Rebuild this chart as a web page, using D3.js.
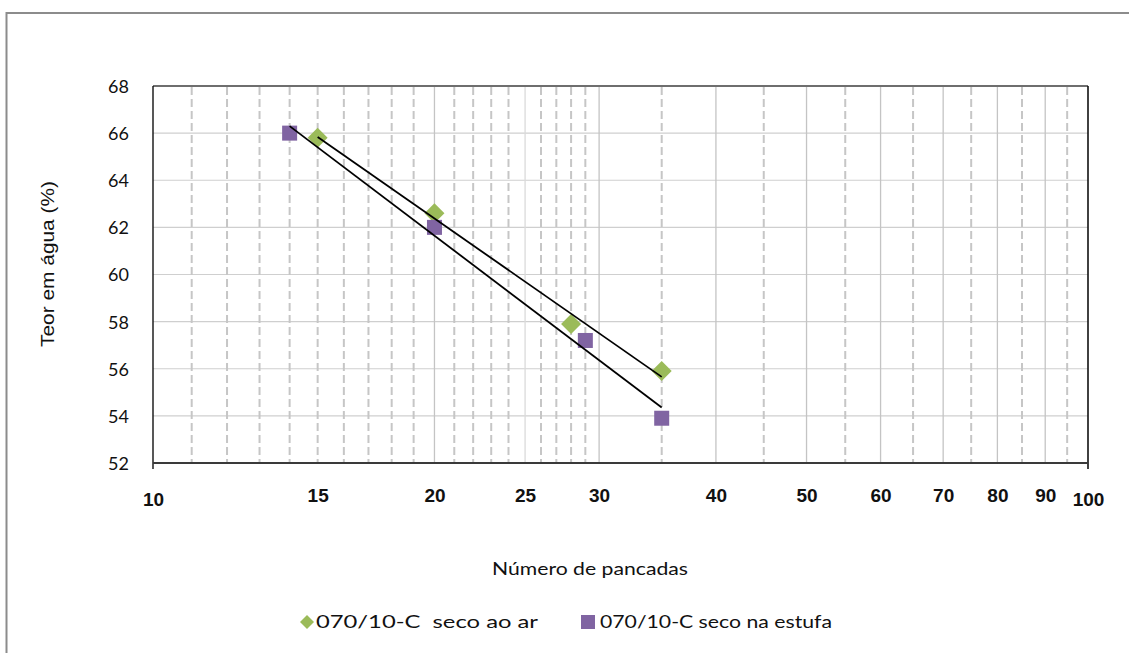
<!DOCTYPE html>
<html><head><meta charset="utf-8">
<script src="https://cdn.jsdelivr.net/npm/d3@7"></script>
<style>body{margin:0;background:#fff}svg{display:block}</style>
</head><body><svg id="c" width="1129" height="653"></svg>
<script>
// ---- data ----
const seriesNames = ["070/10-C  seco ao ar", "070/10-C seco na estufa"];
const arX = [15, 20, 28, 35];
const arY = [65.8, 62.6, 57.9, 55.9];
const estufaX = [14, 20, 29, 35];
const estufaY = [66.0, 62.0, 57.2, 53.9];
const xTickLabels = [10, 15, 20, 25, 30, 40, 50, 60, 70, 80, 90, 100];
const yTicks = [52, 54, 56, 58, 60, 62, 64, 66, 68];
const xSolidGrid = [20, 25, 30, 40, 50, 60, 70, 80, 90];
const xDashedGrid = [11, 12, 13, 14, 15, 16, 17, 18, 19, 21, 22, 23, 24, 26, 27, 28, 29, 35, 45, 55, 65, 75, 85, 95];
const xTitle = "Número de pancadas";
const yTitle = "Teor em água (%)";
const colors = ["#9BBB59", "#8064A2"];

// ---- layout ----
const L = 153, R = 1088, T = 86, B = 463;
const svg = d3.select("#c");
const x = d3.scaleLog().domain([10, 100]).range([L, R]);
const y = d3.scaleLinear().domain([52, 68]).range([B, T]);

// outer frame
svg.append("rect").attr("x", 6.5).attr("y", 13).attr("width", 1140).attr("height", 660)
  .attr("fill", "none").attr("stroke", "#8c8c8c").attr("stroke-width", 2);

// horizontal gridlines
svg.append("g").selectAll("line").data(yTicks.filter(d => d > 52 && d < 68)).join("line")
  .attr("x1", L).attr("x2", R).attr("y1", d => y(d)).attr("y2", d => y(d))
  .attr("stroke", "#cfcfcf").attr("stroke-width", 1.2);

// vertical gridlines
svg.append("g").selectAll("line").data(xSolidGrid).join("line")
  .attr("x1", d => x(d)).attr("x2", d => x(d)).attr("y1", T).attr("y2", B)
  .attr("stroke", d => d === 25 ? "#dadada" : "#c4c4c4").attr("stroke-width", 1.3);
svg.append("g").selectAll("line").data(xDashedGrid).join("line")
  .attr("x1", d => x(d)).attr("x2", d => x(d)).attr("y1", T + 1).attr("y2", B)
  .attr("stroke", "#c6c6c6").attr("stroke-width", 2).attr("stroke-dasharray", "8,4");

// plot borders / axes
svg.append("line").attr("x1", L).attr("x2", R).attr("y1", T).attr("y2", T)
  .attr("stroke", "#6e6e6e").attr("stroke-width", 2);
svg.append("line").attr("x1", R).attr("x2", R).attr("y1", T).attr("y2", B + 6)
  .attr("stroke", "#111").attr("stroke-width", 1.6);
svg.append("line").attr("x1", L).attr("x2", L).attr("y1", T).attr("y2", B + 6)
  .attr("stroke", "#111").attr("stroke-width", 1.4);
svg.append("line").attr("x1", L).attr("x2", R).attr("y1", B).attr("y2", B)
  .attr("stroke", "#3a3a3a").attr("stroke-width", 2);

// y tick labels
const yAxis = svg.append("g").attr("transform", `translate(${L},0)`)
  .call(d3.axisLeft(y).tickValues(yTicks).tickSize(0).tickPadding(24));
yAxis.select(".domain").remove();
yAxis.selectAll("text").attr("font-family", "Lato, 'Open Sans', sans-serif")
  .attr("font-size", 18).attr("fill", "#111").attr("dy", "0.36em");

// x tick labels
const xAxis = svg.append("g").attr("transform", `translate(0,${B})`)
  .call(d3.axisBottom(x).tickValues(xTickLabels).tickSize(0).tickFormat(d3.format("d")));
xAxis.select(".domain").remove();
xAxis.selectAll("text")
  .attr("font-family", "'Liberation Sans', Arial, sans-serif").attr("font-weight", "bold")
  .attr("font-size", 19).attr("fill", "#111")
  .attr("dy", 0)
  .attr("y", (d, i) => (i === 0 || i === xTickLabels.length - 1) ? 43 : 39);

// axis titles
svg.append("text").attr("x", 590).attr("y", 575).attr("text-anchor", "middle")
  .attr("font-family", "Lato, 'Open Sans', sans-serif").attr("font-size", 18).attr("fill", "#111")
  .attr("textLength", 196).attr("lengthAdjust", "spacingAndGlyphs").text(xTitle);
svg.append("text").attr("transform", "translate(54,264) rotate(-90)").attr("text-anchor", "middle")
  .attr("font-family", "'Liberation Sans', Arial, sans-serif").attr("font-size", 18).attr("fill", "#111")
  .attr("textLength", 166).attr("lengthAdjust", "spacingAndGlyphs").text(yTitle);

// log trendlines
function logFit(xs, ys) {
  const lx = xs.map(Math.log);
  const mx = d3.mean(lx), my = d3.mean(ys);
  const b = d3.sum(lx.map((v, i) => (v - mx) * (ys[i] - my))) / d3.sum(lx.map(v => (v - mx) ** 2));
  const a = my - b * mx;
  return v => a + b * Math.log(v);
}
const series = [
  {xs: arX, ys: arY, color: colors[0], shape: "diamond"},
  {xs: estufaX, ys: estufaY, color: colors[1], shape: "square"}
];

// markers
const diamond = s => `M0,${-s}L${s},0L0,${s}L${-s},0Z`;
series.forEach(s => {
  const pts = s.xs.map((v, i) => [v, s.ys[i]]);
  const g = svg.append("g");
  if (s.shape === "diamond") {
    g.selectAll("path").data(pts).join("path")
      .attr("transform", d => `translate(${x(d[0])},${y(d[1])})`)
      .attr("d", diamond(10)).attr("fill", s.color);
  } else {
    g.selectAll("rect").data(pts).join("rect")
      .attr("x", d => x(d[0]) - 7.5).attr("y", d => y(d[1]) - 7.5)
      .attr("width", 15).attr("height", 15).attr("fill", s.color);
  }
});
series.forEach(s => {
  const f = logFit(s.xs, s.ys);
  const x0 = d3.min(s.xs), x1 = d3.max(s.xs);
  svg.append("line").attr("x1", x(x0)).attr("y1", y(f(x0))).attr("x2", x(x1)).attr("y2", y(f(x1)))
    .attr("stroke", "#000").attr("stroke-width", 1.8);
});

// legend
const lg = svg.append("g");
lg.append("path").attr("transform", "translate(307,622)").attr("d", diamond(7)).attr("fill", colors[0]);
lg.append("text").attr("x", 316).attr("y", 628).attr("xml:space", "preserve").style("white-space", "pre")
  .attr("font-family", "Lato, 'Open Sans', sans-serif").attr("font-size", 18).attr("fill", "#111")
  .attr("textLength", 222).attr("lengthAdjust", "spacingAndGlyphs").text(seriesNames[0]);
lg.append("rect").attr("x", 581).attr("y", 615).attr("width", 14).attr("height", 14).attr("fill", colors[1]);
lg.append("text").attr("x", 600).attr("y", 628).style("white-space", "pre")
  .attr("font-family", "Lato, 'Open Sans', sans-serif").attr("font-size", 18).attr("fill", "#111")
  .attr("textLength", 232).attr("lengthAdjust", "spacingAndGlyphs").text(seriesNames[1]);
</script></body></html>
